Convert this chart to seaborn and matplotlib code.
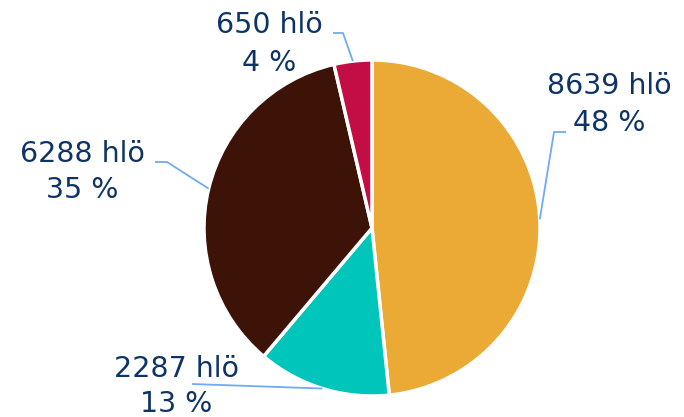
import numpy as np
import matplotlib
matplotlib.use("Agg")
import matplotlib.pyplot as plt
import seaborn as sns

# Data
values = [8639, 2287, 6288, 650]
unit = "hlö"
colors = ["#EBA935", "#00C5BB", "#3D1308", "#C20E44"]

# label placement in pixels (y from top): elbow, line end, text x, baselines
elbows = [(554, 132), (192, 384), (167, 162), (343, 33)]
ends = [(566, 132), (192, 384), (155, 162), (333, 33)]
text_x = [609, 176, 82, 269]
baselines = [(94, 131), (377, 412), (162, 198), (33, 71)]

W, H = 684, 417
cx, cy, r = 372, 228, 168

sns.set_theme(style="white")
plt.rcParams["font.family"] = ["DejaVu Sans"]

fig = plt.figure(figsize=(W / 100, H / 100), dpi=100)
ax = fig.add_axes([0, 0, 1, 1])

wedges, _ = ax.pie(values, colors=colors, startangle=90, counterclock=False,
                   center=(cx, H - cy), radius=r,
                   wedgeprops=dict(edgecolor="white", linewidth=2.5))

total = sum(values)
text_color = "#0E3466"
line_color = "#6FABF5"
for w, v, el, en, tx, bl in zip(wedges, values, elbows, ends, text_x, baselines):
    mid = np.deg2rad((w.theta1 + w.theta2) / 2)
    ax0 = cx + r * np.cos(mid)
    ay0 = (H - cy) + r * np.sin(mid)
    ax.plot([ax0, el[0], en[0]], [ay0, H - el[1], H - en[1]],
            color=line_color, lw=1.3, solid_capstyle="butt", zorder=3)
    pct = round(v / total * 100)
    ax.text(tx, H - bl[0], f"{v} {unit}", ha="center", va="baseline",
            fontsize=20.5, color=text_color)
    ax.text(tx, H - bl[1], f"{pct} %", ha="center", va="baseline",
            fontsize=20.5, color=text_color)

ax.set_xlim(0, W)
ax.set_ylim(0, H)
ax.set_aspect("equal")
ax.axis("off")

fig.savefig("out.png", dpi=100)
